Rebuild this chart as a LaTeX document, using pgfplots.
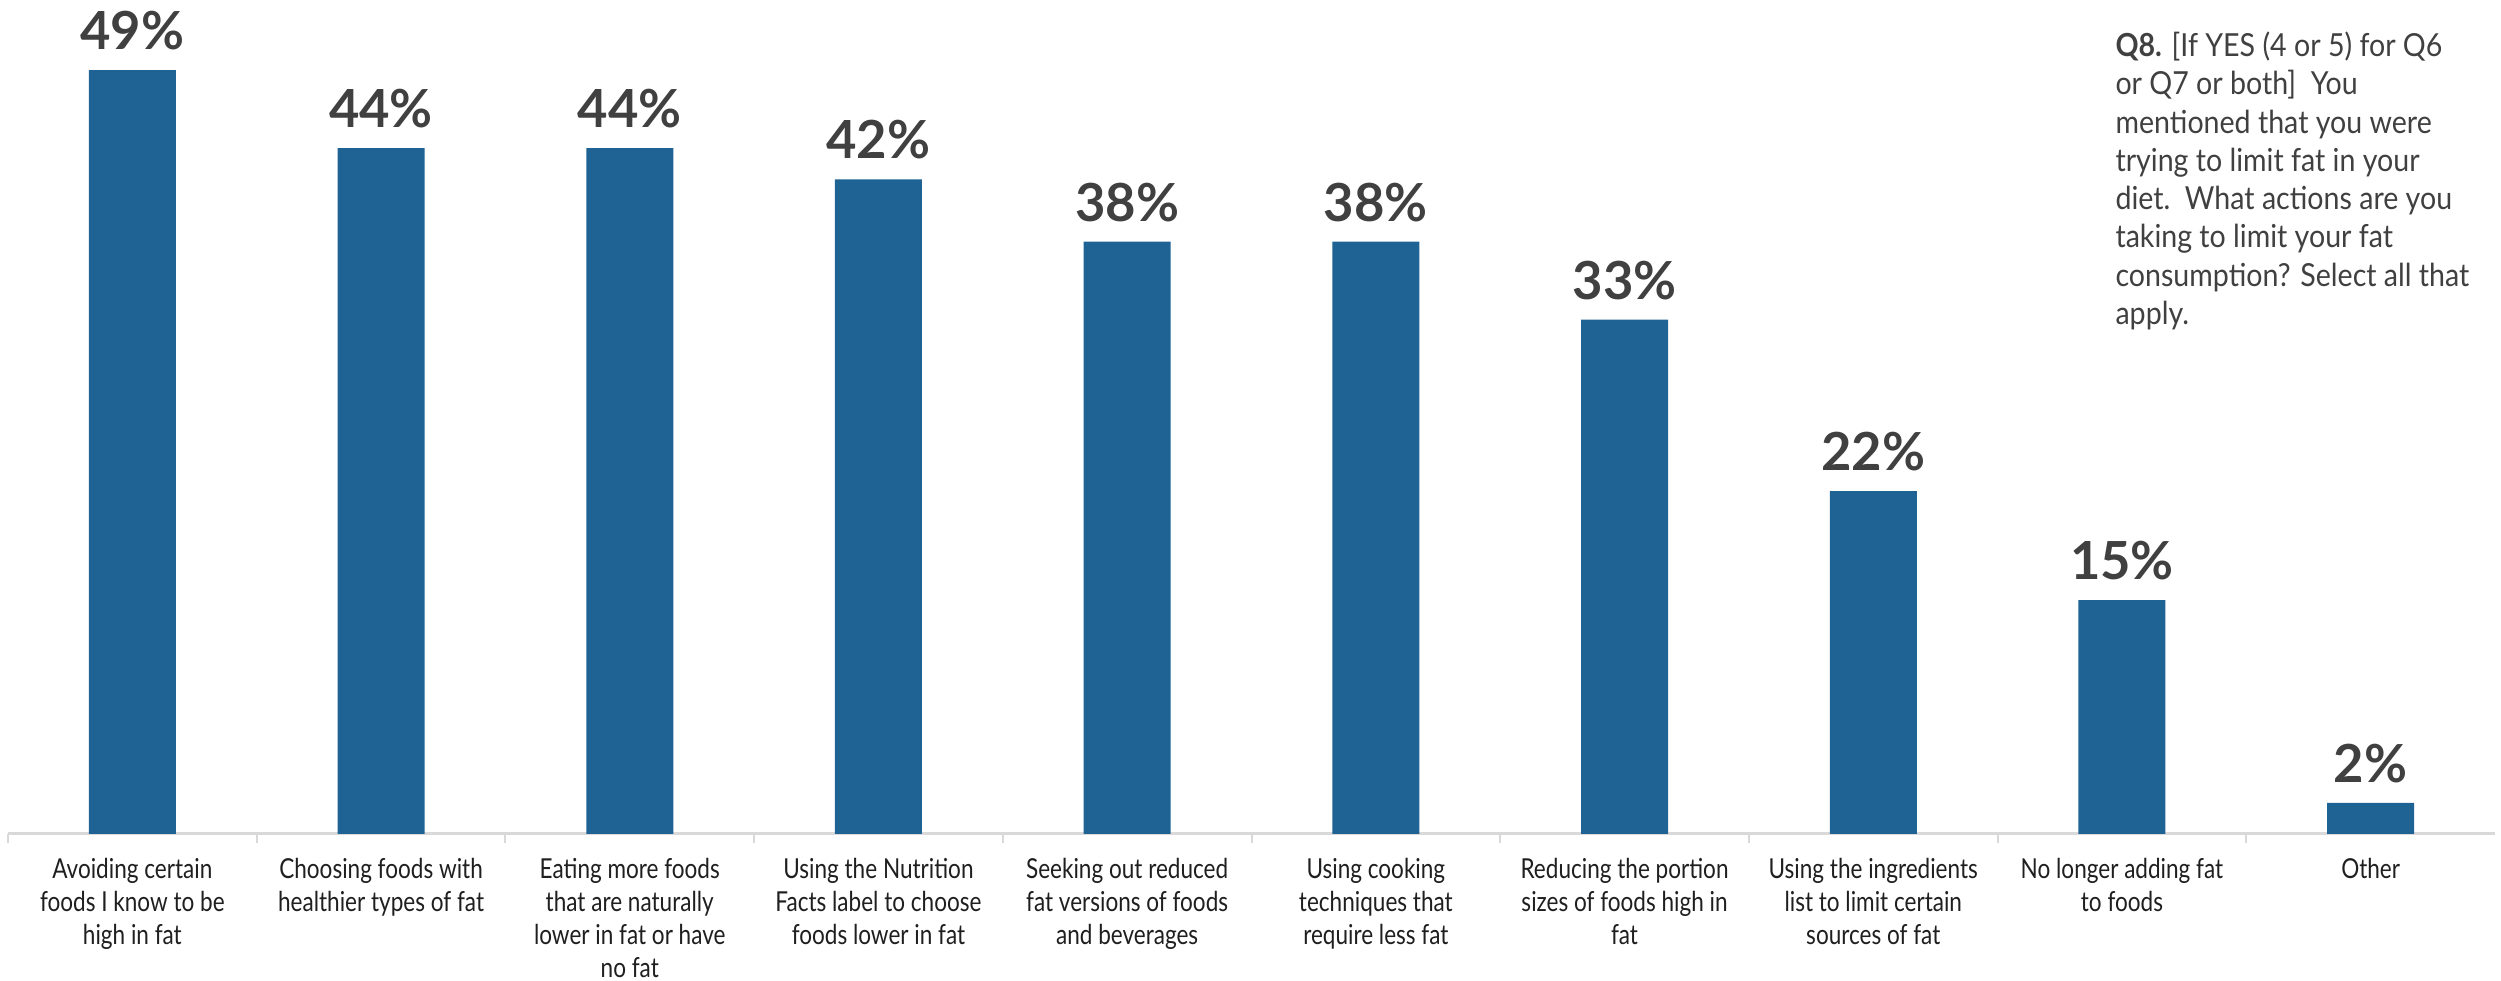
\documentclass[border=0pt]{standalone}
\usepackage{pgfplots}
\pgfplotsset{compat=1.18}
\usepackage{fontspec}
\setmainfont{Lato}
\newfontfamily\labelfont[FakeStretch=0.82]{Lato}
\newfontfamily\qfont[FakeStretch=0.9]{Lato}
\definecolor{barblue}{RGB}{31,98,148}
\definecolor{txtgray}{RGB}{64,64,64}
\definecolor{axgray}{RGB}{217,217,217}
\begin{document}
\begin{tikzpicture}
\begin{axis}[
  at={(0,0)}, anchor=south west,
  width=994.8pt, height=333.6pt, scale only axis,
  xmin=-0.5, xmax=9.5, ymin=0, ymax=53.5,
  axis x line=bottom, axis y line=none,
  x axis line style={-, axgray, line width=1.2pt},
  ytick=\empty,
  xtick={0,...,9},
  xticklabels={
    {Avoiding certain\\foods I know to be\\high in fat},
    {Choosing foods with\\healthier types of fat},
    {Eating more foods\\that are naturally\\lower in fat or have\\no fat},
    {Using the Nutrition\\Facts label to choose\\foods lower in fat},
    {Seeking out reduced\\fat versions of foods\\and beverages},
    {Using cooking\\techniques that\\require less fat},
    {Reducing the portion\\sizes of foods high in\\fat},
    {Using the ingredients\\list to limit certain\\sources of fat},
    {No longer adding fat\\to foods},
    {Other}},
  major x tick style={draw=none},
  extra x ticks={-0.5,0.5,1.5,2.5,3.5,4.5,5.5,6.5,7.5,8.5},
  extra x tick labels={},
  extra x tick style={tick align=outside, major tick length=3.6pt,
     major x tick style={draw=axgray, line width=0.8pt}},
  xticklabel style={align=center, font=\labelfont\fontsize{11}{13.2}\selectfont,
     text=black!88, yshift=-4pt},
  clip=false,
  /pgf/number format/assume math mode=true,
]
\addplot[ybar, bar width=34.8pt, fill=barblue, draw=none,
  nodes near coords={\pgfmathprintnumber{\pgfplotspointmeta}\%},
  nodes near coords style={font=\bfseries\fontsize{21}{24}\selectfont, text=txtgray, yshift=4.5pt}]
  coordinates {(0,49)(1,44)(2,44)(3,42)(4,38)(5,38)(6,33)(7,22)(8,15)(9,2)};
\end{axis}
\node[anchor=north west, align=left, inner sep=0pt, text=txtgray,
  font=\qfont\fontsize{12.7}{15.3}\selectfont] at (842.8pt,321pt)
  {{\bfseries Q8.} [If YES (4 or 5) for Q6\\or Q7 or both]\ \ You\\mentioned that you were\\trying to limit fat in your\\diet.\ \ What actions are you\\taking to limit your fat\\consumption? Select all that\\apply.};
\pgfresetboundingbox
\path (-3.2pt,-58.8pt) rectangle (997.2pt,333.6pt);
\end{tikzpicture}
\end{document}
